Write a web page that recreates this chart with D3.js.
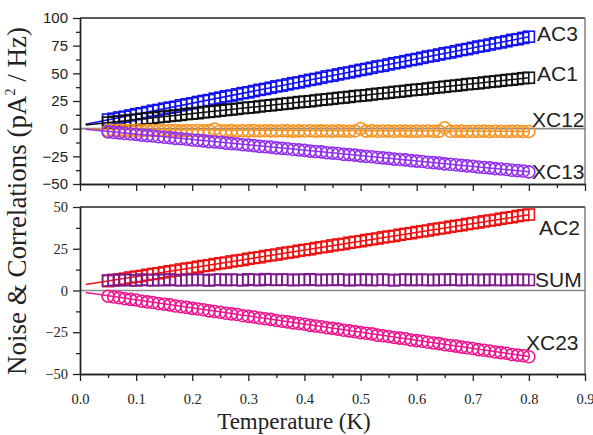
<!DOCTYPE html>
<html><head><meta charset="utf-8">
<script src="https://cdn.jsdelivr.net/npm/d3@7"></script>
<style>body{margin:0;background:#fff}svg{display:block}</style>
</head><body><svg id="c" width="593" height="435"></svg>
<script>
// ---------- data ----------
const temps = [0.05,0.06,0.07,0.08,0.09,0.10,0.11,0.12,0.13,0.14,
  0.15,0.16,0.17,0.18,0.19,0.20,0.21,0.22,0.23,0.24,
  0.25,0.26,0.27,0.28,0.29,0.30,0.31,0.32,0.33,0.34,
  0.35,0.36,0.37,0.38,0.39,0.40,0.41,0.42,0.43,0.44,
  0.45,0.46,0.47,0.48,0.49,0.50,0.51,0.52,0.53,0.54,
  0.55,0.56,0.57,0.58,0.59,0.60,0.61,0.62,0.63,0.64,
  0.65,0.66,0.67,0.68,0.69,0.70,0.71,0.72,0.73,0.74,
  0.75,0.76,0.77,0.78,0.79,0.80];
const ac3 = [8.2,9.0,10.1,10.8,12.0,13.1,13.9,15.0,16.2,16.9,
  18.1,19.0,19.8,21.1,22.0,22.9,24.1,25.0,25.8,27.1,
  28.0,29.2,29.9,31.0,32.1,32.8,34.0,35.1,35.9,37.0,
  38.2,38.9,40.0,41.1,41.8,43.0,44.1,44.9,46.0,47.2,
  47.9,49.0,50.1,50.8,52.0,53.1,53.9,55.0,56.2,56.8,
  58.0,59.1,59.9,61.0,62.1,62.9,64.0,65.2,65.9,67.0,
  68.1,68.8,70.0,71.1,71.9,73.0,74.2,74.9,76.0,77.1,
  77.9,79.0,80.2,80.8,82.0,83.1];
const ac1 = [5.5,6.1,6.5,7.2,7.7,8.1,8.8,9.3,9.7,10.4,
  10.9,11.5,11.9,12.5,13.2,13.6,14.0,14.8,15.2,15.7,
  16.3,16.9,17.3,17.9,18.6,19.0,19.4,20.1,20.7,21.1,
  21.7,22.3,22.7,23.3,24.0,24.4,24.8,25.5,26.1,26.5,
  27.1,27.7,28.1,28.7,29.4,29.8,30.2,30.9,31.5,31.9,
  32.5,33.1,33.5,34.1,34.8,35.2,35.6,36.3,36.9,37.4,
  37.9,38.5,38.9,39.5,40.2,40.6,41.0,41.7,42.3,42.7,
  43.3,43.9,44.3,44.9,45.6,46.0];
const xc12 = [-1.6,-1.7,-1.5,-1.8,-1.6,-1.7,-1.9,-1.6,-1.8,-1.7,
  -1.9,-1.7,-1.8,-2.0,-1.8,-1.9,-1.7,-2.0,-1.8,-0.3,
  -1.9,-2.0,-1.8,-2.1,-1.9,-2.0,-1.8,-2.1,-1.9,-2.0,
  -2.1,-1.9,-2.0,-2.2,-2.0,-2.1,-1.9,-2.2,-2.0,-2.1,
  -2.2,-2.0,-2.1,-2.3,-2.1,0.2,-2.2,-2.0,-2.3,-2.1,
  -2.2,-2.3,-2.1,-2.2,-2.4,-2.2,-2.3,-2.1,-2.4,-2.2,
  0.8,-2.3,-2.4,-2.2,-2.5,-2.3,-2.4,-2.2,-2.5,-2.3,
  -2.4,-2.5,-2.3,-2.4,-2.6,-2.5];
const xc13 = [-2.9,-3.5,-3.8,-4.4,-4.8,-5.2,-5.9,-6.3,-6.6,-7.3,
  -7.7,-8.1,-8.8,-9.1,-9.5,-10.2,-10.6,-11.0,-11.7,-12.0,
  -12.4,-13.1,-13.5,-13.8,-14.5,-14.9,-15.3,-16.0,-16.3,-16.7,
  -17.4,-17.8,-18.2,-18.8,-19.2,-19.6,-20.3,-20.7,-21.0,-21.7,
  -22.1,-22.5,-23.2,-23.5,-23.9,-24.6,-25.0,-25.4,-26.0,-26.4,
  -26.8,-27.5,-27.9,-28.2,-28.9,-29.3,-29.7,-30.4,-30.7,-31.1,
  -31.8,-32.2,-32.6,-33.2,-33.6,-34.0,-34.7,-35.1,-35.4,-36.1,
  -36.5,-36.9,-37.6,-37.9,-38.3,-39.0];
const ac2 = [5.6,6.2,6.7,7.1,7.8,8.3,8.7,9.4,9.9,10.3,
  10.9,11.5,11.9,12.6,13.1,13.5,14.2,14.7,15.1,15.8,
  16.3,16.7,17.4,17.9,18.3,19.0,19.5,19.9,20.6,21.1,
  21.5,22.2,22.7,23.1,23.8,24.3,24.7,25.4,25.9,26.3,
  27.0,27.5,27.9,28.6,29.1,29.5,30.2,30.7,31.1,31.8,
  32.3,32.7,33.4,33.9,34.3,35.0,35.5,35.9,36.6,37.1,
  37.5,38.2,38.7,39.1,39.8,40.3,40.7,41.4,41.9,42.3,
  43.0,43.5,43.9,44.6,45.1,45.5];
const sum = [6.0,6.3,6.1,6.4,6.2,6.0,6.5,6.3,6.1,6.4,
  6.2,6.6,6.3,6.1,6.4,6.2,6.5,6.3,6.0,6.4,
  6.6,6.2,6.5,6.3,6.1,6.7,6.4,6.2,6.8,6.5,
  6.3,6.6,6.4,6.2,6.5,6.3,6.7,6.4,6.2,6.5,
  6.3,6.6,6.4,6.1,6.5,6.3,6.6,6.2,6.4,6.5,
  6.3,6.1,6.4,6.6,6.2,6.5,6.3,6.4,6.2,6.5,
  6.3,6.6,6.4,6.2,6.5,6.3,6.4,6.2,6.5,6.3,
  6.4,6.2,6.5,6.3,6.4,6.3];
const xc23 = [-3.4,-3.9,-4.3,-4.9,-5.3,-5.7,-6.4,-6.8,-7.2,-7.8,
  -8.2,-8.6,-9.3,-9.7,-10.1,-10.7,-11.1,-11.5,-12.2,-12.6,
  -13.0,-13.6,-14.0,-14.4,-15.1,-15.5,-15.9,-16.5,-16.9,-17.3,
  -18.0,-18.4,-18.8,-19.4,-19.8,-20.2,-20.9,-21.3,-21.7,-22.3,
  -22.7,-23.1,-23.8,-24.2,-24.6,-25.2,-25.6,-26.0,-26.7,-27.1,
  -27.5,-28.1,-28.5,-28.9,-29.6,-30.0,-30.4,-31.0,-31.4,-31.8,
  -32.5,-32.9,-33.3,-33.9,-34.3,-34.7,-35.4,-35.8,-36.2,-36.8,
  -37.2,-37.6,-38.3,-38.7,-39.1,-39.7];
// linear fits: values at fitT endpoints
const fitT = [0.01, 0.80];
const fitAC3 = [4.0, 83.0];
const fitAC1 = [3.3, 46.0];
const fitXC12 = [-0.6, -2.5];
const fitXC13 = [-0.5, -38.9];
const fitAC2 = [3.6, 45.4];
const fitXC23 = [-1.2, -39.5];
const seriesNames = ["AC3","AC1","XC12","XC13","AC2","SUM","XC23"];
const xTicks = [0.0,0.1,0.2,0.3,0.4,0.5,0.6,0.7,0.8,0.9];
const xMinor = [0.05,0.15,0.25,0.35,0.45,0.55,0.65,0.75,0.85];
const topYTicks = [100,75,50,25,0,-25,-50];
const topYMinor = [87.5,62.5,37.5,12.5,-12.5,-37.5];
const botYTicks = [50,25,0,-25,-50];
const botYMinor = [37.5,12.5,-12.5,-37.5];

// ---------- drawing ----------
const svg = d3.select('#c');
const serif = '"Liberation Serif","Times New Roman",serif';
const sans = '"Liberation Sans",Arial,sans-serif';
const x = d3.scaleLinear().domain([0,0.9]).range([80,585]);
const yTop = d3.scaleLinear().domain([-50,100]).range([184,18]);
const yBot = d3.scaleLinear().domain([-50,50]).range([374,207]);

function frame(y, top, bottom){
  svg.append('line').attr('x1',x(0)).attr('x2',x(0.9)).attr('y1',y(0)).attr('y2',y(0))
    .attr('stroke','#8a8a8a').attr('stroke-width',1.6);
  svg.append('line').attr('x1',x(0)).attr('x2',x(0.9)).attr('y1',top).attr('y2',top)
    .attr('stroke','#222').attr('stroke-width',1.4);
  svg.append('line').attr('x1',x(0.9)).attr('x2',x(0.9)).attr('y1',top).attr('y2',bottom)
    .attr('stroke','#777').attr('stroke-width',1.4);
}
frame(yTop, 18, 184);
frame(yBot, 207, 374);

function styleAxis(g, font, size){
  g.select('.domain').attr('stroke','#222').attr('stroke-width',1.4);
  g.selectAll('.tick line').attr('stroke','#222').attr('stroke-width',1.3);
  g.selectAll('text').attr('font-family',font).attr('font-size',size).attr('fill','#222');
}
function yAxes(y, ticks, minor, font, size){
  const g = svg.append('g').attr('transform','translate(80,0)')
    .call(d3.axisLeft(y).tickValues(ticks).tickSize(7).tickSizeOuter(0).tickPadding(5).tickFormat(d3.format('d')));
  styleAxis(g, font, size);
  const gm = svg.append('g').attr('transform','translate(80,0)')
    .call(d3.axisLeft(y).tickValues(minor).tickSize(4).tickSizeOuter(0).tickFormat(''));
  styleAxis(gm, font, size);
}
yAxes(yTop, topYTicks, topYMinor, sans, 15);
yAxes(yBot, botYTicks, botYMinor, serif, 14.5);

function xAxes(yPos, labels){
  const a = d3.axisBottom(x).tickValues(xTicks).tickSize(7).tickSizeOuter(0).tickPadding(13)
    .tickFormat(labels ? d3.format('.1f') : '');
  const g = svg.append('g').attr('transform',`translate(0,${yPos})`).call(a);
  styleAxis(g, serif, 14.5);
  const gm = svg.append('g').attr('transform',`translate(0,${yPos})`)
    .call(d3.axisBottom(x).tickValues(xMinor).tickSize(4).tickSizeOuter(0).tickFormat(''));
  styleAxis(gm, serif, 14.5);
}
xAxes(184, false);
xAxes(374, true);

function fitLine(y, vals, color){
  svg.append('line').attr('x1',x(fitT[0])).attr('x2',x(fitT[1]))
    .attr('y1',y(vals[0])).attr('y2',y(vals[1]))
    .attr('stroke',color).attr('stroke-width',1.5);
}
function squares(y, vals, color){
  const s = 11;
  svg.append('g').selectAll('rect').data(vals).join('rect')
    .attr('x',(d,i)=>x(temps[i])-s/2).attr('y',d=>y(d)-s/2)
    .attr('width',s).attr('height',s)
    .attr('fill','none').attr('stroke',color).attr('stroke-width',1.6);
}
function circles(y, vals, color){
  svg.append('g').selectAll('circle').data(vals).join('circle')
    .attr('cx',(d,i)=>x(temps[i])).attr('cy',d=>y(d)).attr('r',6)
    .attr('fill','none').attr('stroke',color).attr('stroke-width',1.6);
}
const cAC3='#1010f0', cAC1='#111111', cXC12='#f7931e', cXC13='#9230ee',
      cAC2='#ee1111', cSUM='#7d1a8c', cXC23='#ee1490';

fitLine(yTop, fitAC3, cAC3); squares(yTop, ac3, cAC3);
fitLine(yTop, fitAC1, cAC1); squares(yTop, ac1, cAC1);
fitLine(yTop, fitXC12, cXC12); circles(yTop, xc12, cXC12);
fitLine(yTop, fitXC13, cXC13); circles(yTop, xc13, cXC13);
fitLine(yBot, fitAC2, cAC2); squares(yBot, ac2, cAC2);
squares(yBot, sum, cSUM);
fitLine(yBot, fitXC23, cXC23); circles(yBot, xc23, cXC23);

// series labels
const labelPos = [[537,41],[537,81],[532,127],[532,179],[539,235],[535,287],[526,350]];
seriesNames.forEach((n,i)=>{
  svg.append('text').attr('x',labelPos[i][0]).attr('y',labelPos[i][1])
    .attr('font-family',sans).attr('font-size',21).attr('fill','#222').text(n);
});

// axis titles
svg.append('text').attr('x',294).attr('y',429).attr('text-anchor','middle')
  .attr('font-family',serif).attr('font-size',23).attr('fill','#222').text('Temperature (K)');
const yt = svg.append('text').attr('transform','translate(26,201) rotate(-90)')
  .attr('text-anchor','middle').attr('font-family',serif).attr('font-size',27).attr('fill','#222');
yt.append('tspan').text('Noise & Correlations (pA');
yt.append('tspan').attr('font-size',14).attr('dy',-11).text('2');
yt.append('tspan').attr('dy',11).text(' / Hz)');
</script></body></html>
